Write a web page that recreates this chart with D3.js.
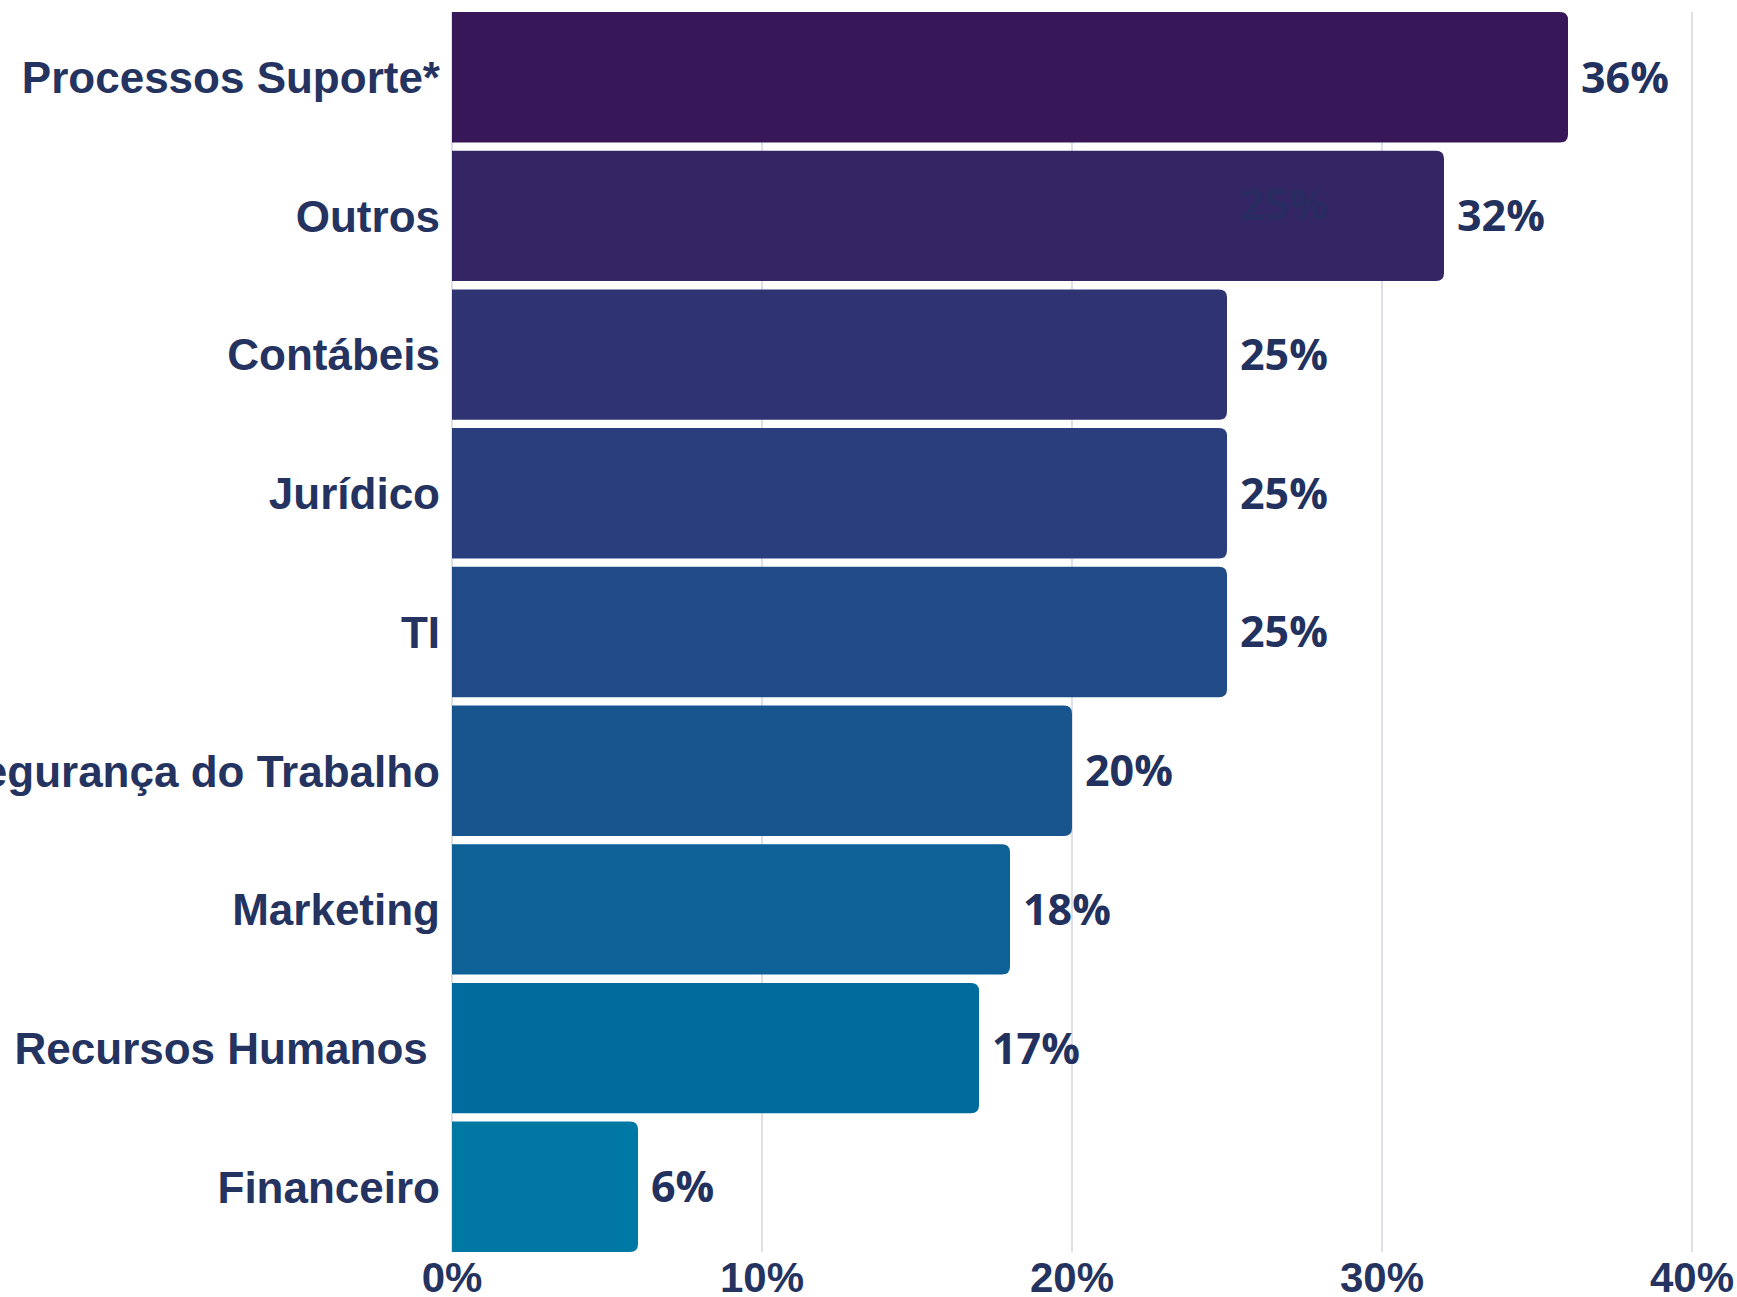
<!DOCTYPE html>
<html lang="pt">
<head>
    <meta charset="UTF-8">
    <title>Processos por área</title>
    <script src="https://d3js.org/d3.v7.min.js"></script>
    <style>
        html, body { margin: 0; padding: 0; background: #fff; }
        svg { display: block; }
        .cat { font-family: "Liberation Sans", Arial, sans-serif; font-weight: bold; font-size: 44px; fill: #243360; white-space: pre; }
        .tick-label { font-family: "Liberation Sans", Arial, sans-serif; font-weight: bold; font-size: 42px; fill: #243360; }
        .val { font-family: "Open Sans", sans-serif; font-weight: bold; font-size: 43px; fill: #22315e; }
    </style>
</head>
<body>
    <div id="chart"></div>

    <script>
        // data
        const categories = ["Processos Suporte*", "Outros", "Contábeis", "Jurídico", "TI",
            "Segurança do Trabalho", "Marketing", "Recursos Humanos ", "Financeiro"];
        const values = [36, 32, 25, 25, 25, 20, 18, 17, 6];
        const barColors = ["#371758", "#342565", "#2f3371", "#2a3e7e", "#214b87",
            "#18558f", "#0e6197", "#006c9e", "#0078a4"];
        const ticks = [0, 10, 20, 30, 40];

        const width = 1737;
        const height = 1297;
        const margin = { top: 12, right: 45, bottom: 45, left: 452 };

        const svg = d3.select("#chart")
            .append("svg")
            .attr("width", width)
            .attr("height", height);

        const x = d3.scaleLinear()
            .domain([0, 40])
            .range([margin.left, width - margin.right]);

        const y = d3.scaleBand()
            .domain(categories)
            .range([margin.top, height - margin.bottom])
            .paddingInner(0.06);

        // grid lines
        svg.append("g")
            .selectAll("line")
            .data(ticks)
            .join("line")
            .attr("x1", d => x(d))
            .attr("x2", d => x(d))
            .attr("y1", margin.top)
            .attr("y2", height - margin.bottom)
            .attr("stroke", "#d3d6de")
            .attr("stroke-width", 1.5);

        // bars, rounded on the right end only
        const r = 8;
        function barPath(d) {
            const x0 = x(0), x1 = x(d.v), y0 = y(d.c), h = y.bandwidth();
            return `M${x0},${y0}H${x1 - r}Q${x1},${y0} ${x1},${y0 + r}` +
                `V${y0 + h - r}Q${x1},${y0 + h} ${x1 - r},${y0 + h}H${x0}Z`;
        }

        const rows = categories.map((c, i) => ({ c, v: values[i], color: barColors[i] }));

        svg.append("g")
            .selectAll("path")
            .data(rows)
            .join("path")
            .attr("d", barPath)
            .attr("fill", d => d.color);

        // stray "25%" label sitting on the Outros bar
        svg.append("text")
            .attr("class", "val")
            .attr("x", x(25) + 13)
            .attr("y", y("Outros") + y.bandwidth() / 2 - 11)
            .attr("dy", "0.36em")
            .attr("fill-opacity", 0.6)
            .text("25%");

        // value labels
        svg.append("g")
            .selectAll("text")
            .data(rows)
            .join("text")
            .attr("class", "val")
            .attr("x", d => x(d.v) + 13)
            .attr("y", d => y(d.c) + y.bandwidth() / 2)
            .attr("dy", "0.36em")
            .text(d => d.v + "%");

        // category labels
        svg.append("g")
            .selectAll("text")
            .data(categories)
            .join("text")
            .attr("class", "cat")
            .attr("x", margin.left - 12)
            .attr("y", d => y(d) + y.bandwidth() / 2)
            .attr("dy", "0.36em")
            .attr("text-anchor", "end")
            .text(d => d);

        // x axis labels
        svg.append("g")
            .selectAll("text")
            .data(ticks)
            .join("text")
            .attr("class", "tick-label")
            .attr("x", d => x(d))
            .attr("y", 1292)
            .attr("text-anchor", "middle")
            .text(d => d + "%");
    </script>
</body>
</html>
